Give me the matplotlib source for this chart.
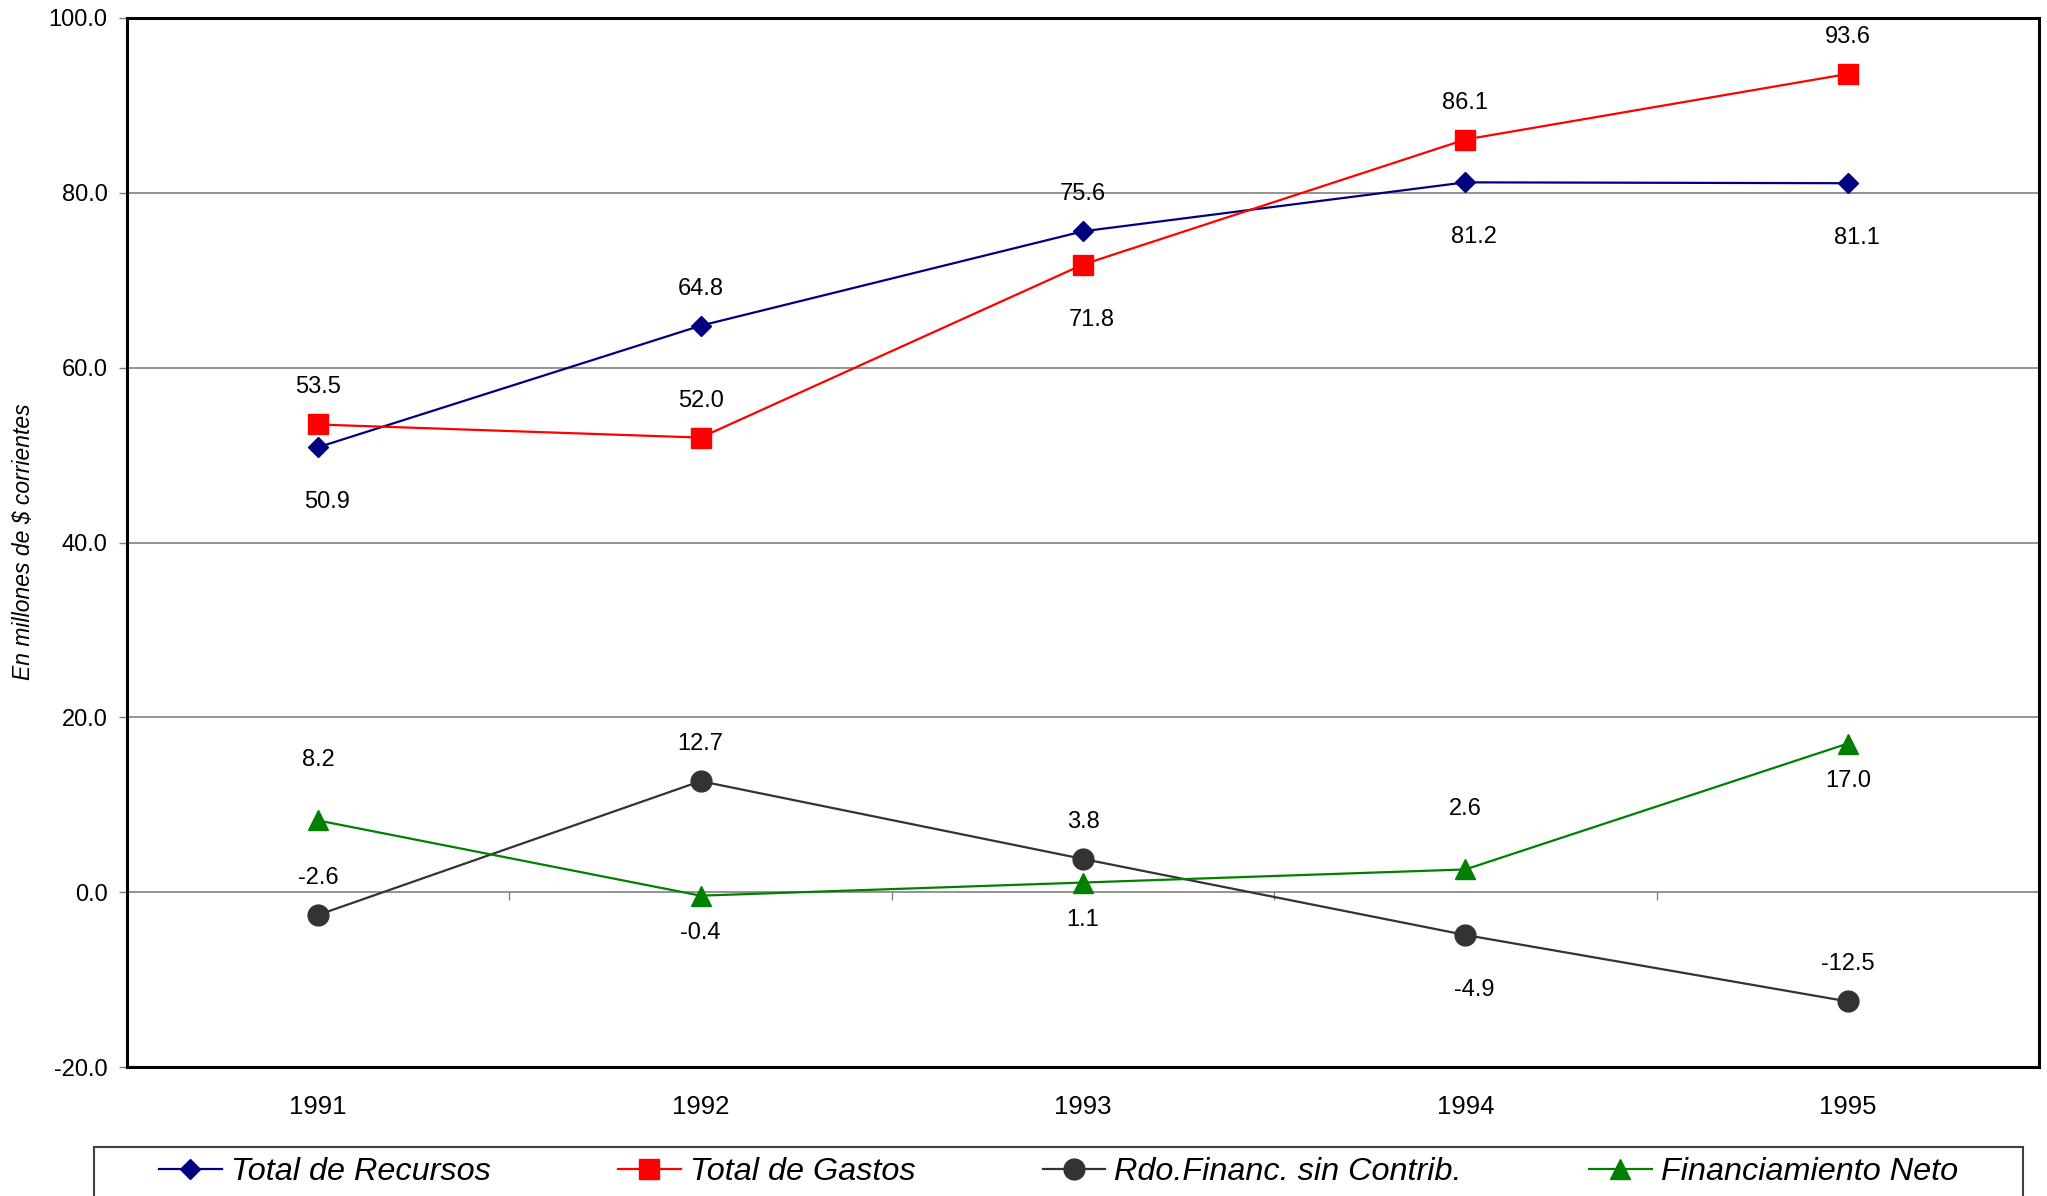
import matplotlib
matplotlib.use("Agg")
import matplotlib.pyplot as plt
from matplotlib.patches import Rectangle

# data (millones de $ corrientes)
years = ["1991", "1992", "1993", "1994", "1995"]
recursos = [50.9, 64.8, 75.6, 81.2, 81.1]
gastos = [53.5, 52.0, 71.8, 86.1, 93.6]
rdo_financ = [-2.6, 12.7, 3.8, -4.9, -12.5]
financ_neto = [8.2, -0.4, 1.1, 2.6, 17.0]

series_names = ["Total de Recursos", "Total de Gastos",
                "Rdo.Financ. sin Contrib.", "Financiamiento Neto"]

# label placement (pixel offsets dx, dy from each marker)
A, B, BF, AF = (0, 37), (0, -37), (9, -55), (0, 60)
label_offsets = [
    [BF, A, A, BF, BF],
    [A, A, BF, A, A],
    [A, A, A, BF, A],
    [AF, B, B, AF, B],
]

styles = [
    dict(color="#000080", marker="D", ms=10),
    dict(color="#FF0000", marker="s", ms=15),
    dict(color="#333333", marker="o", ms=15),
    dict(color="#008000", marker="^", ms=15),
]

plt.rcParams["font.family"] = ["Liberation Sans", "DejaVu Sans"]

W, H = 2047, 1196
fig = plt.figure(figsize=(W / 100, H / 100), dpi=100)
ax = fig.add_axes([127 / W, 1 - 1067 / H, (2039 - 127) / W, (1067 - 18) / H])

x = list(range(len(years)))
handles = []
for name, vals, st, offs in zip(series_names,
                                [recursos, gastos, rdo_financ, financ_neto],
                                styles, label_offsets):
    h, = ax.plot(x, vals, color=st["color"], lw=1.6, marker=st["marker"],
                 ms=st["ms"], mec=st["color"], mfc=st["color"], zorder=3,
                 label=name)
    handles.append(h)
    for xi, v, (dx, dy) in zip(x, vals, offs):
        ax.annotate(f"{v:.1f}", (xi, v), xytext=(dx, dy),
                    textcoords="offset pixels", ha="center", va="center",
                    fontsize=17, color="black")

ax.set_xlim(-0.5, len(years) - 0.5)
ax.set_ylim(-20, 100)
ax.set_yticks(range(-20, 101, 20))
ax.set_yticklabels([f"{v:.1f}" for v in range(-20, 101, 20)])
ax.tick_params(axis="y", direction="out", length=6, width=1, color="#808080",
               labelsize=17, pad=8)
ax.set_xticks(x)
ax.set_xticklabels(years)
ax.tick_params(axis="x", length=0, labelsize=18.5, pad=20)
ax.yaxis.grid(True, color="#808080", lw=1.2)
ax.set_axisbelow(True)
for sp in ax.spines.values():
    sp.set_color("black")
    sp.set_linewidth(2.2)

# category axis crossing at zero, with tick marks between categories
zero_pos = (0 - (-20)) / 120
sec = ax.secondary_xaxis(zero_pos)
sec.set_xticks([i + 0.5 for i in x[:-1]])
sec.set_xticklabels([])
sec.tick_params(direction="out", length=6, width=1, color="#808080")
sec.spines["bottom"].set_visible(False)

fig.text(24 / W, 1 - 542 / H, "En millones de $ corrientes",
         rotation=90, ha="center", va="center", fontsize=16.5, style="italic")

# legend frame, running off the bottom of the image
fig.patches.append(Rectangle((94 / W, -0.05), (2023 - 94) / W,
                             0.05 + (H - 1147) / H,
                             transform=fig.transFigure, fill=False,
                             edgecolor="#404040", lw=1.5))
fig.legend(handles=handles, loc="center",
           bbox_to_anchor=(94 / W, (24 - 30) / H, (2023 - 94) / W, 60 / H),
           borderaxespad=0, ncol=4, frameon=False,
           prop=dict(size=23.3, style="italic"),
           handlelength=1.94, handletextpad=0.28, columnspacing=3.93,
           markerscale=1.0)

fig.savefig("out.png", dpi=100)
